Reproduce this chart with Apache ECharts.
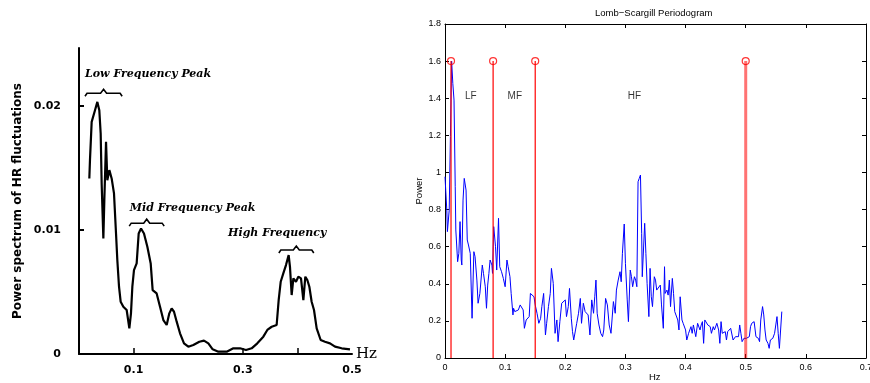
<!DOCTYPE html>
<html>
<head>
<meta charset="utf-8">
<script src="https://cdn.jsdelivr.net/npm/echarts@6/dist/echarts.min.js"></script>
<style>
html,body{margin:0;padding:0;background:#fff;}
#chart{width:870px;height:383px;}
</style>
</head>
<body>
<div id="chart"></div>
<script>
// ---------- Left panel (scanned spectrum) ----------
const leftHz = [0.0189,0.0201,0.0232,0.0293,0.0336,0.0372,0.0397,0.0415,0.0446,0.0464,0.0495,0.0519,0.0556,0.0598,0.0641,0.0678,0.0702,0.0733,0.0763,0.0812,0.0873,0.0922,0.0952,0.0977,0.1007,0.1056,0.1093,0.1136,0.1190,0.1252,0.1313,0.1349,0.1422,0.1484,0.1545,0.1606,0.1654,0.1697,0.1740,0.1789,0.1850,0.1923,0.2002,0.2094,0.2204,0.2289,0.2369,0.2448,0.2552,0.2705,0.2827,0.2949,0.3059,0.3162,0.3266,0.3376,0.3449,0.3529,0.3620,0.3657,0.3694,0.3742,0.3791,0.3840,0.3864,0.3895,0.3926,0.3974,0.4017,0.4066,0.4109,0.4145,0.4182,0.4219,0.4261,0.4304,0.4353,0.4426,0.4505,0.4597,0.4689,0.4811,0.4963];
const leftPower = [0.01417,0.01565,0.01874,0.01968,0.02035,0.01968,0.0178,0.01376,0.00933,0.01242,0.01712,0.01403,0.01484,0.01417,0.01296,0.00973,0.00758,0.00543,0.00422,0.00382,0.00355,0.00207,0.00328,0.00543,0.00677,0.00731,0.00973,0.01013,0.00973,0.00866,0.00731,0.00516,0.00489,0.00382,0.00274,0.00234,0.00328,0.00368,0.00341,0.00261,0.00167,0.00086,0.00059,0.00073,0.00099,0.00108,0.00086,0.00038,0.00019,0.00019,0.00046,0.00046,0.00032,0.00046,0.00086,0.0014,0.00194,0.0022,0.00234,0.00435,0.00583,0.00651,0.00718,0.00798,0.00704,0.00476,0.0061,0.00583,0.00624,0.0061,0.00435,0.00624,0.00597,0.00543,0.00422,0.00355,0.00207,0.00113,0.00099,0.00086,0.00059,0.00046,0.00038];
const leftTickHz = [0.1, 0.3, 0.4];
const leftLabelHz = [0.1, 0.3, 0.5];
const leftYTicks = [0.01, 0.02];
const leftYLabels = [0, 0.01, 0.02];
const peakNames = ['Low Frequency Peak', 'Mid Frequency Peak', 'High Frequency'];
const peakTextX = [0.011, 0.093, 0.273];
const peakTextY = [0.02258, 0.01177, 0.00976];
const bracketStart = [0.011, 0.092, 0.366];
const bracketEnd = [0.079, 0.156, 0.430];
const bracketY = [0.02105, 0.01056, 0.00839];

// ---------- Right panel (Lomb-Scargle periodogram) ----------
const freqHz = [0.000,0.003,0.004,0.007,0.009,0.011,0.013,0.015,0.017,0.018,
0.021,0.023,0.025,0.027,0.028,0.030,0.032,0.035,0.037,0.039,
0.042,0.045,0.048,0.050,0.053,0.055,0.058,0.062,0.064,0.067,
0.069,0.071,0.073,0.075,0.078,0.079,0.081,0.084,0.086,0.089,
0.091,0.094,0.097,0.100,0.103,0.105,0.108,0.110,0.113,0.114,
0.116,0.119,0.122,0.125,0.127,0.130,0.132,0.135,0.137,0.140,
0.142,0.145,0.148,0.150,0.153,0.156,0.159,0.161,0.164,0.167,
0.169,0.172,0.175,0.177,0.180,0.183,0.186,0.188,0.191,0.194,
0.197,0.200,0.202,0.205,0.207,0.210,0.212,0.214,0.217,0.219,
0.222,0.225,0.227,0.230,0.233,0.236,0.238,0.241,0.244,0.247,
0.249,0.251,0.253,0.256,0.259,0.262,0.264,0.267,0.270,0.273,
0.276,0.278,0.280,0.283,0.285,0.288,0.291,0.293,0.295,0.298,
0.300,0.303,0.305,0.308,0.310,0.312,0.315,0.317,0.319,0.321,
0.323,0.325,0.327,0.328,0.330,0.332,0.334,0.336,0.339,0.341,
0.343,0.345,0.348,0.350,0.352,0.355,0.358,0.360,0.363,0.365,
0.366,0.369,0.371,0.373,0.375,0.378,0.380,0.382,0.384,0.387,
0.389,0.391,0.394,0.396,0.398,0.400,0.402,0.405,0.407,0.409,
0.411,0.413,0.415,0.417,0.420,0.421,0.424,0.426,0.428,0.430,
0.432,0.435,0.437,0.439,0.441,0.443,0.446,0.448,0.450,0.452,
0.455,0.457,0.459,0.461,0.463,0.466,0.468,0.470,0.472,0.475,
0.477,0.479,0.481,0.483,0.486,0.488,0.490,0.492,0.494,0.497,
0.499,0.501,0.503,0.506,0.508,0.510,0.512,0.514,0.517,0.519,
0.521,0.523,0.525,0.528,0.530,0.532,0.534,0.537,0.539,0.541,
0.543,0.545,0.548,0.550,0.552,0.554,0.556,0.558,0.560];
const power = [0.977,0.797,0.681,0.797,1.193,1.600,1.480,1.390,0.923,0.690,
0.519,0.564,0.735,0.528,0.501,0.851,0.968,0.905,0.636,0.609,
0.564,0.214,0.573,0.546,0.420,0.295,0.348,0.501,0.456,0.384,
0.268,0.393,0.456,0.528,0.501,0.456,0.708,0.600,0.474,0.753,
0.492,0.465,0.429,0.384,0.528,0.492,0.438,0.348,0.232,0.268,
0.250,0.241,0.259,0.286,0.277,0.259,0.160,0.205,0.214,0.223,
0.348,0.357,0.330,0.286,0.241,0.187,0.214,0.277,0.348,0.124,
0.187,0.277,0.348,0.483,0.402,0.133,0.205,0.088,0.196,0.295,
0.295,0.313,0.223,0.277,0.375,0.214,0.142,0.097,0.151,0.187,
0.241,0.321,0.187,0.295,0.250,0.241,0.232,0.124,0.313,0.241,
0.330,0.420,0.241,0.178,0.133,0.115,0.151,0.321,0.286,0.178,
0.133,0.142,0.304,0.241,0.366,0.420,0.465,0.411,0.564,0.722,
0.510,0.313,0.196,0.474,0.438,0.384,0.438,0.420,0.384,0.950,
0.968,0.986,0.672,0.438,0.438,0.726,0.564,0.402,0.223,0.483,
0.330,0.277,0.438,0.420,0.366,0.375,0.393,0.286,0.160,0.492,
0.348,0.366,0.339,0.420,0.277,0.429,0.348,0.250,0.250,0.205,
0.151,0.330,0.205,0.187,0.178,0.151,0.097,0.133,0.151,0.169,
0.133,0.178,0.169,0.115,0.187,0.178,0.151,0.178,0.196,0.079,
0.205,0.205,0.178,0.187,0.169,0.133,0.169,0.151,0.160,0.187,
0.151,0.079,0.196,0.133,0.133,0.142,0.097,0.142,0.151,0.160,
0.169,0.097,0.106,0.115,0.106,0.115,0.178,0.133,0.088,0.106,
0.097,0.106,0.097,0.115,0.169,0.187,0.196,0.196,0.115,0.106,
0.106,0.088,0.205,0.277,0.232,0.151,0.097,0.079,0.052,0.097,
0.106,0.106,0.133,0.178,0.223,0.133,0.052,0.047,0.250];
const stemHz = [0.01, 0.08, 0.15, 0.5];
const stemHeight = [1.6, 1.6, 1.6, 1.6];
const bandNames = ['LF', 'MF', 'HF'];
const bandLabelX = [0.043, 0.116, 0.315];
const bandLabelY = [1.41, 1.41, 1.41];

const chart = echarts.init(document.getElementById('chart'), null, {renderer: 'canvas'});
const matFont = '"Liberation Sans", Arial, sans-serif';

const option = {
  animation: false,
  backgroundColor: '#fff',
  graphic: [
    {
      type: 'text', left: 655 - 60, top: 8,
      style: {text: 'Lomb\u2212Scargill Periodogram', font: '9.5px ' + matFont, fill: '#000'}
    },
    {
      type: 'text', left: 649, top: 372,
      style: {text: 'Hz', font: '9.5px ' + matFont, fill: '#000'}
    }
  ],
  grid: [
    {left: 79, top: 48, width: 273, height: 306, outerBoundsMode: 'none', containLabel: false},
    {left: 445, top: 24, width: 421, height: 334, outerBoundsMode: 'none', containLabel: false}
  ],
  xAxis: [
    {
      gridIndex: 0, type: 'value', min: 0, max: 0.5, interval: 0.1,
      axisLine: {show: true, lineStyle: {color: '#000', width: 2}},
      axisTick: {show: true, inside: true, length: 6, customValues: leftTickHz, lineStyle: {color: '#000', width: 1.5}},
      splitLine: {show: false},
      axisLabel: {
        margin: 11, color: '#000', fontWeight: 'bold', fontSize: 11, fontFamily: 'DejaVu Sans',
        customValues: leftLabelHz,
        formatter: v => Number(v).toFixed(1)
      },
      name: 'Hz', nameLocation: 'end', nameGap: 4,
      nameTextStyle: {color: '#000', fontSize: 15, fontFamily: 'DejaVu Serif', verticalAlign: 'middle', padding: [0, 0, 6, 0]}
    },
    {
      gridIndex: 1, type: 'value', min: 0, max: 0.7, interval: 0.1, position: 'bottom',
      axisLine: {show: true, onZero: false, lineStyle: {color: '#000', width: 1}},
      axisTick: {show: true, inside: true, length: 4, lineStyle: {color: '#000'}},
      splitLine: {show: false},
      axisLabel: {margin: 5, color: '#000', fontSize: 9, fontFamily: 'Liberation Sans', showMaxLabel: true, hideOverlap: false}
    },
    {
      gridIndex: 1, type: 'value', min: 0, max: 0.7, interval: 0.1, position: 'top',
      axisLine: {show: true, onZero: false, lineStyle: {color: '#000', width: 1}},
      axisTick: {show: true, inside: true, length: 4, lineStyle: {color: '#000'}},
      splitLine: {show: false}, axisLabel: {show: false}
    }
  ],
  yAxis: [
    {
      gridIndex: 0, type: 'value', min: 0, max: 0.0247, interval: 0.01,
      axisLine: {show: true, lineStyle: {color: '#000', width: 2}},
      axisTick: {show: true, inside: true, length: 5, customValues: leftYTicks, lineStyle: {color: '#000', width: 2}},
      splitLine: {show: false},
      axisLabel: {margin: 18, color: '#000', fontWeight: 'bold', fontSize: 11, fontFamily: 'DejaVu Sans',
        customValues: leftYLabels,
        formatter: v => Number(v) === 0 ? '0' : Number(v).toFixed(2)},
      name: 'Power spectrum of HR fluctuations', nameLocation: 'middle', nameGap: 55,
      nameTextStyle: {color: '#000', fontWeight: 'bold', fontSize: 12, fontFamily: 'DejaVu Sans'}
    },
    {
      gridIndex: 1, type: 'value', min: 0, max: 1.8, interval: 0.2, position: 'left',
      axisLine: {show: true, onZero: false, lineStyle: {color: '#000', width: 1}},
      axisTick: {show: true, inside: true, length: 4, lineStyle: {color: '#000'}},
      splitLine: {show: false},
      axisLabel: {margin: 4, color: '#000', fontSize: 9, fontFamily: 'Liberation Sans', showMaxLabel: true},
      name: 'Power', nameLocation: 'middle', nameGap: 19,
      nameTextStyle: {color: '#000', fontSize: 9.5, fontFamily: 'Liberation Sans'}
    },
    {
      gridIndex: 1, type: 'value', min: 0, max: 1.8, interval: 0.2, position: 'right',
      axisLine: {show: true, onZero: false, lineStyle: {color: '#000', width: 1}},
      axisTick: {show: true, inside: true, length: 4, lineStyle: {color: '#000'}},
      splitLine: {show: false}, axisLabel: {show: false}
    }
  ],
  series: [
    {
      type: 'line', xAxisIndex: 0, yAxisIndex: 0, showSymbol: false, symbol: 'none',
      data: leftHz.map((x, i) => [x, leftPower[i]]),
      lineStyle: {color: '#000', width: 2.2}
    },
    {
      type: 'custom', xAxisIndex: 0, yAxisIndex: 0, silent: true,
      data: bracketStart.map((x, i) => [x, bracketEnd[i], bracketY[i]]),
      renderItem: (params, api) => {
        const a = api.coord([api.value(0), api.value(2)]);
        const b = api.coord([api.value(1), api.value(2)]);
        const m = (a[0] + b[0]) / 2, y = a[1];
        return {type: 'polyline', shape: {points: [
          [a[0], y + 3], [a[0] + 2, y], [m - 3, y], [m, y - 4], [m + 3, y], [b[0] - 2, y], [b[0], y + 3]
        ]}, style: {stroke: '#000', lineWidth: 1.6, fill: null}};
      }
    },
    {
      type: 'custom', xAxisIndex: 0, yAxisIndex: 0, silent: true,
      data: peakTextX.map((x, i) => [x, peakTextY[i], i]),
      renderItem: (params, api) => {
        const p = api.coord([api.value(0), api.value(1)]);
        return {type: 'text', style: {x: p[0], y: p[1], text: peakNames[api.value(2)],
          font: 'italic bold 11px "DejaVu Serif", serif', fill: '#000',
          align: 'left', verticalAlign: 'middle', textAlign: 'left', textVerticalAlign: 'middle'}};
      }
    },
    {
      type: 'line', xAxisIndex: 1, yAxisIndex: 1, showSymbol: false, symbol: 'none',
      data: freqHz.map((x, i) => [x, power[i]]),
      lineStyle: {color: '#0000ff', width: 1}
    },
    {
      type: 'custom', xAxisIndex: 1, yAxisIndex: 1, silent: true, z: 5,
      data: stemHz.map((x, i) => [x, stemHeight[i], i]),
      renderItem: (params, api) => {
        const idx = api.value(2);
        const p0 = api.coord([api.value(0), 0]);
        const p1 = api.coord([api.value(0), api.value(1)]);
        const last = idx === stemHz.length - 1;
        return {type: 'line', shape: {x1: p0[0], y1: p0[1], x2: p1[0], y2: p1[1]},
          style: {stroke: last ? 'rgba(255,0,0,0.55)' : '#ff0000', lineWidth: last ? 3 : 1.2}};
      }
    },
    {
      type: 'scatter', xAxisIndex: 1, yAxisIndex: 1, silent: true, z: 6,
      data: stemHz.map((x, i) => [x, stemHeight[i]]),
      symbol: 'circle', symbolSize: 7,
      itemStyle: {color: 'rgba(0,0,0,0)', borderColor: '#ff0000', borderWidth: 1.2}
    },
    {
      type: 'scatter', xAxisIndex: 1, yAxisIndex: 1, silent: true,
      data: bandLabelX.map((x, i) => ({value: [x, bandLabelY[i]], name: bandNames[i]})),
      symbolSize: 0,
      label: {show: true, position: 'inside', formatter: p => p.name, color: '#000',
        fontSize: 10, fontFamily: 'Liberation Sans'}
    }
  ]
};
chart.setOption(option);
</script>
</body>
</html>
